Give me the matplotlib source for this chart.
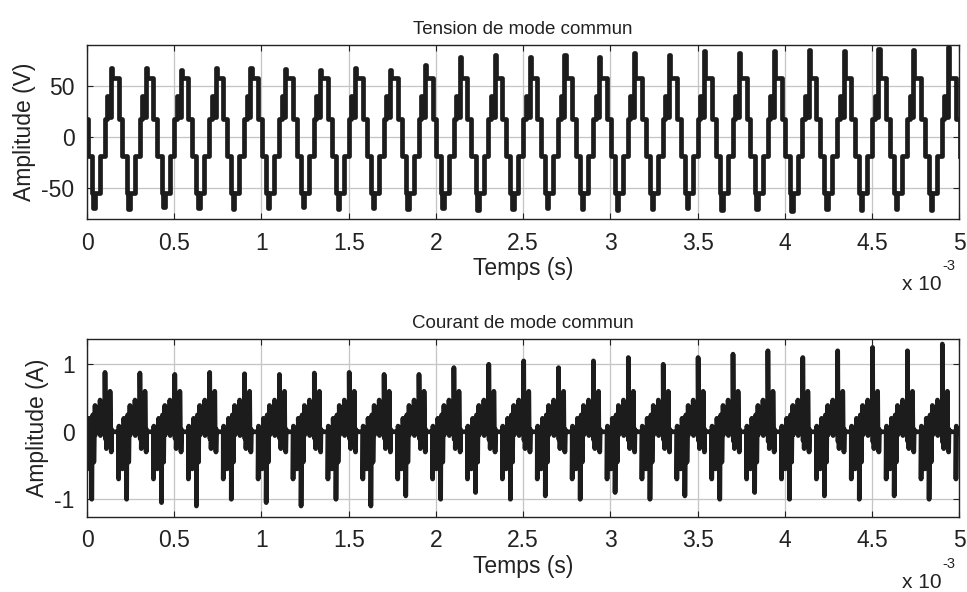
import matplotlib
matplotlib.use("Agg")
import matplotlib.pyplot as plt
import numpy as np

plt.rcParams["font.family"] = ["Liberation Sans", "DejaVu Sans"]
plt.rcParams["axes.unicode_minus"] = False

# ---- data (time in ms) ----
period = 0.2            # switching period (ms)
t_first = -0.173        # start of the first (partial) period's low step
n_periods = 26

# one switching period of the common-mode voltage: step start (fraction) and level (V)
# None -> per-period positive peak, "neg" -> per-period negative peak
v_frac = [0.00, 0.05, 0.09, 0.23, 0.37, 0.44, 0.47, 0.55, 0.58, 0.77, 0.88]
v_level = [-55, "neg", -55, -18, 18, 40, 20, None, 58, 18, -18]

v_peak_pos = [68, 68, 68, 66, 68, 68, 67, 66, 68, 66, 70, 78, 80, 78, 80,
              78, 82, 80, 84, 82, 84, 85, 84, 86, 85, 88]
v_peak_neg = [-69, -69, -70, -68, -69, -70, -69, -68, -70, -69, -70, -69, -71, -70, -69,
              -70, -71, -70, -69, -71, -70, -72, -70, -71, -70, -71]

# one switching period of the common-mode current: spike position (fraction) and height (A)
# "pk" -> per-period main positive spike, "ng" -> per-period main negative spike
i_frac = [0.00, 0.03, 0.06, 0.095, 0.24, 0.38, 0.42, 0.525, 0.56, 0.77, 0.88, 0.92]
i_height = ["ng", 0.25, -0.45, 0.39, 0.47, "pk", -0.25, 0.6, -0.3, -0.7, -0.55, 0.2]

i_peak_pos = [0.88, 0.88, 0.87, 0.85, 0.88, 0.86, 0.85, 0.87, 0.88, 0.85, 0.85, 0.95, 1.0,
              1.05, 0.95, 1.05, 1.1, 1.0, 1.1, 1.15, 1.2, 1.1, 1.2, 1.25, 1.2, 1.3]
i_peak_neg = [-1.0, -1.0, -1.0, -1.05, -1.1, -1.0, -1.05, -1.1, -1.0, -1.1, -0.95, -1.0, -0.9,
              -1.0, -0.95, -1.0, -0.9, -1.0, -0.95, -1.0, -0.9, -1.0, -0.95, -1.0, -0.95, -1.0]
i_ring = [-0.12, 0.04, 0.0]   # ringing after each spike, relative to the spike

x_ticks = [0, 0.5, 1, 1.5, 2, 2.5, 3, 3.5, 4, 4.5, 5]
x_tick_labels = ["0", "0.5", "1", "1.5", "2", "2.5", "3", "3.5", "4", "4.5", "5"]


def build_voltage():
    t, v = [], []
    for k in range(n_periods):
        t0 = t_first + k * period
        for f, lvl in zip(v_frac, v_level):
            if lvl is None:
                lvl = v_peak_pos[k]
            elif lvl == "neg":
                lvl = v_peak_neg[k]
            t.append(t0 + f * period)
            v.append(lvl)
    return np.array(t), np.array(v, dtype=float)


def build_current():
    t, i = [0.0], [0.0]
    dt = 0.002
    for k in range(n_periods):
        t0 = t_first + k * period
        for f, h in zip(i_frac, i_height):
            if h == "pk":
                h = i_peak_pos[k]
            elif h == "ng":
                h = i_peak_neg[k]
            ts = t0 + f * period
            if ts < 0 or ts > 5:
                continue
            t += [ts, ts]
            i += [0.0, h]
            for n, r in enumerate(i_ring):
                t.append(ts + (n + 1) * dt)
                i.append(r * h)
    t.append(5.0)
    i.append(0.0)
    return np.array(t), np.array(i)


tv, vv = build_voltage()
ti, ii = build_current()

fig = plt.figure(figsize=(9.67, 5.92), dpi=100)
ax1 = fig.add_axes([0.090, 0.630, 0.902, 0.294])
ax2 = fig.add_axes([0.090, 0.127, 0.902, 0.301])

line_color = "#1c1c1c"
txt_color = "#222222"
ax1.plot(tv, vv, drawstyle="steps-post", color=line_color, lw=3.4)
ax2.plot(ti, ii, color=line_color, lw=3.4)

ax1.set_ylim(-80, 90)
ax1.set_yticks([-50, 0, 50])
ax2.set_ylim(-1.26, 1.38)
ax2.set_yticks([-1, 0, 1])

for ax, title, ylab in [(ax1, "Tension de mode commun", "Amplitude (V)"),
                        (ax2, "Courant de mode commun", "Amplitude (A)")]:
    ax.set_xlim(0, 5)
    ax.set_xticks(x_ticks)
    ax.set_xticklabels(x_tick_labels)
    ax.grid(True, color="#c4c4c4", lw=0.9)
    ax.set_axisbelow(True)
    ax.tick_params(direction="in", length=4, width=0.8, top=True, right=True,
                   labelsize=16.5, pad=9, colors=txt_color)
    ax.set_title(title, fontsize=13.5, pad=8, color=txt_color)
    ax.set_xlabel("Temps (s)", fontsize=16.5, labelpad=2, color=txt_color)
    ax.set_ylabel(ylab, fontsize=16.5, labelpad=4, color=txt_color)
    for s in ax.spines.values():
        s.set_linewidth(1.0)
        s.set_color(txt_color)
    # MATLAB style exponent label under the right end of the x axis
    ax.annotate("x 10", xy=(1.0, 0), xycoords="axes fraction", xytext=(-13, -51),
                textcoords="offset points", ha="right", va="baseline",
                fontsize=15, color=txt_color)
    ax.annotate("-3", xy=(1.0, 0), xycoords="axes fraction", xytext=(-12.5, -37),
                textcoords="offset points", ha="left", va="baseline",
                fontsize=10.5, color=txt_color)

fig.savefig("out.png", dpi=100)
